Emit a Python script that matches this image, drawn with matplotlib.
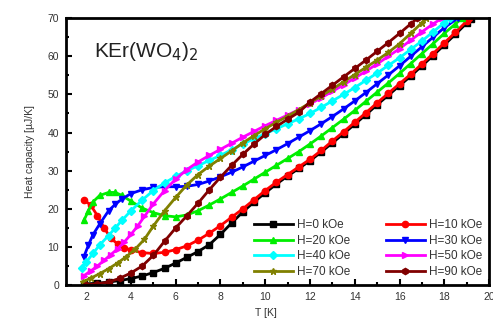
import matplotlib
matplotlib.use('Agg')
import matplotlib.pyplot as plt
from matplotlib.ticker import MultipleLocator

plt.rcParams['font.family'] = ['Liberation Sans', 'DejaVu Sans']

# heat capacity of KEr(WO4)2, T in K, C in uJ/K
t_0 = [1.9, 2.5, 3, 3.5, 4, 4.5, 5, 5.5, 6, 6.5, 7, 7.5, 8, 8.5, 9, 9.5, 10, 10.5, 11, 11.5,
       12, 12.5, 13, 13.5, 14, 14.5, 15, 15.5, 16, 16.5, 17, 17.5, 18, 18.5, 19, 19.2]
c_0 = [0.3, 0.5, 0.8, 1.2, 1.7, 2.4, 3.3, 4.4, 5.8, 7.3, 8.8, 10.6, 13.3, 16.3, 19.2, 21.8, 24.2, 26.5, 28.6, 30.6,
       32.6, 34.9, 37.3, 39.7, 42.2, 44.7, 47.3, 49.8, 52.3, 54.8, 57.5, 60.2, 63, 65.8, 68.7, 69.9]

t_10 = [1.9, 2.2, 2.5, 2.8, 3.1, 3.4, 3.7, 4, 4.5, 5, 5.5, 6, 6.5, 7, 7.5, 8, 8.5, 9, 9.5, 10, 10.5,
        11, 11.5, 12, 12.5, 13, 13.5, 14, 14.5, 15, 15.5, 16, 16.5, 17, 17.5, 18, 18.5, 19, 19.1]
c_10 = [22.3, 21, 18.2, 15, 12.3, 10.8, 9.8, 9.2, 8.5, 8.3, 8.6, 9.3, 10.3, 11.8, 13.6, 15.6, 17.8, 20, 22.4, 24.8, 27,
        29, 31, 33, 35.3, 37.8, 40.2, 42.7, 45.2, 47.8, 50.3, 52.8, 55.3, 58, 60.7, 63.5, 66.3, 69.2, 70]

t_20 = [1.9, 2.1, 2.3, 2.6, 3, 3.3, 3.6, 4, 4.5, 5, 5.5, 6, 6.5, 7, 7.5, 8, 8.5, 9, 9.5, 10, 10.5, 11, 11.5,
        12, 12.5, 13, 13.5, 14, 14.5, 15, 15.5, 16, 16.5, 17, 17.5, 18, 18.5, 18.8]
c_20 = [17, 19.5, 21.8, 23.5, 24.3, 24.3, 23.5, 22, 20.2, 19, 18.2, 17.9, 18.4, 19.5, 21, 22.6, 24.3, 26, 27.8, 29.6, 31.4, 33.2, 35,
        37, 39.1, 41.3, 43.5, 45.8, 48.2, 50.6, 53, 55.5, 58.1, 60.7, 63.3, 66, 68.5, 70]

t_30 = [1.9, 2.1, 2.3, 2.6, 3, 3.3, 3.6, 4, 4.5, 5, 5.5, 6, 6.5, 7, 7.5, 8, 8.5, 9, 9.5, 10, 10.5, 11, 11.5,
        12, 12.5, 13, 13.5, 14, 14.5, 15, 15.5, 16, 16.5, 17, 17.5, 18, 18.6]
c_30 = [7.5, 10.5, 13.2, 16, 19.5, 21.2, 22.6, 24, 25, 25.6, 25.8, 25.8, 25.9, 26.4, 27.3, 28.4, 29.6, 31, 32.5, 34, 35.5, 37.1, 38.8,
        40.5, 42.3, 44.2, 46.2, 48.3, 50.5, 52.8, 55.1, 57.5, 60, 62.5, 65, 67.5, 70]

t_40 = [1.8, 2, 2.3, 2.6, 3, 3.3, 3.6, 4, 4.5, 5, 5.5, 6, 6.5, 7, 7.5, 8, 8.5, 9, 9.5, 10, 10.5, 11, 11.5,
        12, 12.5, 13, 13.5, 14, 14.5, 15, 15.5, 16, 16.5, 17, 17.5, 18, 18.25]
c_40 = [4.5, 6, 8.3, 10.5, 13, 15, 17, 19.5, 22.3, 24.8, 26.8, 28.5, 30, 31.3, 32.7, 34, 35.5, 37, 38.4, 39.7, 41, 42.3, 43.6,
        45, 46.6, 48.3, 50, 51.8, 53.7, 55.6, 57.6, 59.6, 61.8, 64, 66.4, 68.8, 70]

t_50 = [1.9, 2.2, 2.5, 2.8, 3.1, 3.4, 3.7, 4, 4.3, 4.6, 5, 5.5, 6, 6.5, 7, 7.5, 8, 8.5, 9, 9.5, 10, 10.5, 11, 11.5,
        12, 12.5, 13, 13.5, 14, 14.5, 15, 15.5, 16, 16.5, 17, 17.5, 17.9]
c_50 = [2.5, 3.7, 5, 6.5, 8, 9.5, 11.3, 13.3, 15.5, 18, 21.3, 24.8, 27.8, 30.3, 32.3, 34, 35.6, 37.2, 38.8, 40.3, 41.8, 43.2, 44.6, 46,
        47.5, 49.1, 50.8, 52.5, 54.3, 56.1, 58, 60, 62, 64.2, 66.4, 68.5, 70]

t_70 = [1.85, 2.2, 2.6, 3, 3.4, 3.8, 4.2, 4.6, 5, 5.5, 6, 6.5, 7, 7.5, 8, 8.5, 9, 9.5, 10, 10.5, 11, 11.5,
        12, 12.5, 13, 13.5, 14, 14.5, 15, 15.5, 16, 16.5, 17, 17.2]
c_70 = [0.9, 1.8, 3, 4.3, 5.8, 7.5, 9.5, 12, 15.5, 19.5, 23, 26.3, 29, 31.2, 33.2, 35.2, 37.3, 39.2, 41, 42.7, 44.3, 46,
        47.8, 49.6, 51.4, 53.3, 55.2, 57.1, 59, 61, 63.3, 66, 68.8, 70]

t_90 = [2, 2.5, 3, 3.5, 4, 4.5, 5, 5.5, 6, 6.5, 7, 7.5, 8, 8.5, 9, 9.5, 10, 10.5, 11, 11.5,
        12, 12.5, 13, 13.5, 14, 14.5, 15, 15.5, 16, 16.5, 16.8]
c_90 = [0.1, 0.3, 0.8, 1.8, 3.2, 5, 7.8, 11.5, 15, 18.2, 21.5, 25, 28.3, 31.4, 34.3, 37, 39.5, 41.6, 43.5, 45.3,
        48, 50.2, 52.4, 54.6, 56.8, 59, 61.3, 63.6, 66, 68.5, 70]

labels = ['H=0 kOe', 'H=10 kOe', 'H=20 kOe', 'H=30 kOe',
          'H=40 kOe', 'H=50 kOe', 'H=70 kOe', 'H=90 kOe']
colors = ['#000000', '#ff0000', '#00ee00', '#0000ff',
          '#00ffff', '#ff00ff', '#808000', '#800000']
markers = ['s', 'o', '^', 'v', 'D', '>', '*', 'h']
temps = [t_0, t_10, t_20, t_30, t_40, t_50, t_70, t_90]
heats = [c_0, c_10, c_20, c_30, c_40, c_50, c_70, c_90]

fig = plt.figure(figsize=(4.93, 3.24), dpi=100)
ax = fig.add_axes([0.134, 0.12, 0.858, 0.824])

lines = []
for t, c, col, m, lab in zip(temps, heats, colors, markers, labels):
    ln, = ax.plot(t, c, color=col, marker=m, markersize=4.5, lw=2, label=lab)
    lines.append(ln)

ax.set_xlim(1.1, 20)
ax.set_ylim(0, 70)
ax.xaxis.set_major_locator(MultipleLocator(2))
ax.xaxis.set_minor_locator(MultipleLocator(1))
ax.yaxis.set_major_locator(MultipleLocator(10))
ax.yaxis.set_minor_locator(MultipleLocator(5))
ax.tick_params(which='both', direction='in', labelsize=7.5, labelcolor='#333333',
               width=1.5, top=False, right=False)
ax.tick_params(which='major', length=4, pad=5)
ax.tick_params(which='minor', length=2.5)
for s in ax.spines.values():
    s.set_linewidth(2)

ax.set_xlabel('T [K]', fontsize=7.5, color='#333333')
ax.xaxis.set_label_coords(0.473, -0.085)
ax.set_ylabel('Heat capacity [\u00b5J/K]', fontsize=7.5, color='#333333', labelpad=9)

ax.text(0.065, 0.855, 'KEr(WO$_4$)$_2$', transform=ax.transAxes, fontsize=15,
        color='#222222')

# Origin style legend, filled row by row
order = [0, 2, 4, 6, 1, 3, 5, 7]
ax.legend([lines[i] for i in order], [labels[i] for i in order], ncol=2,
          loc='lower right', bbox_to_anchor=(1.0, 0.0), frameon=False,
          prop={'size': 8.5}, labelcolor='#333333', handlelength=3.3,
          columnspacing=3.0, labelspacing=0.3, handletextpad=0.35,
          borderaxespad=0.2)

fig.savefig('out.png', dpi=100)
